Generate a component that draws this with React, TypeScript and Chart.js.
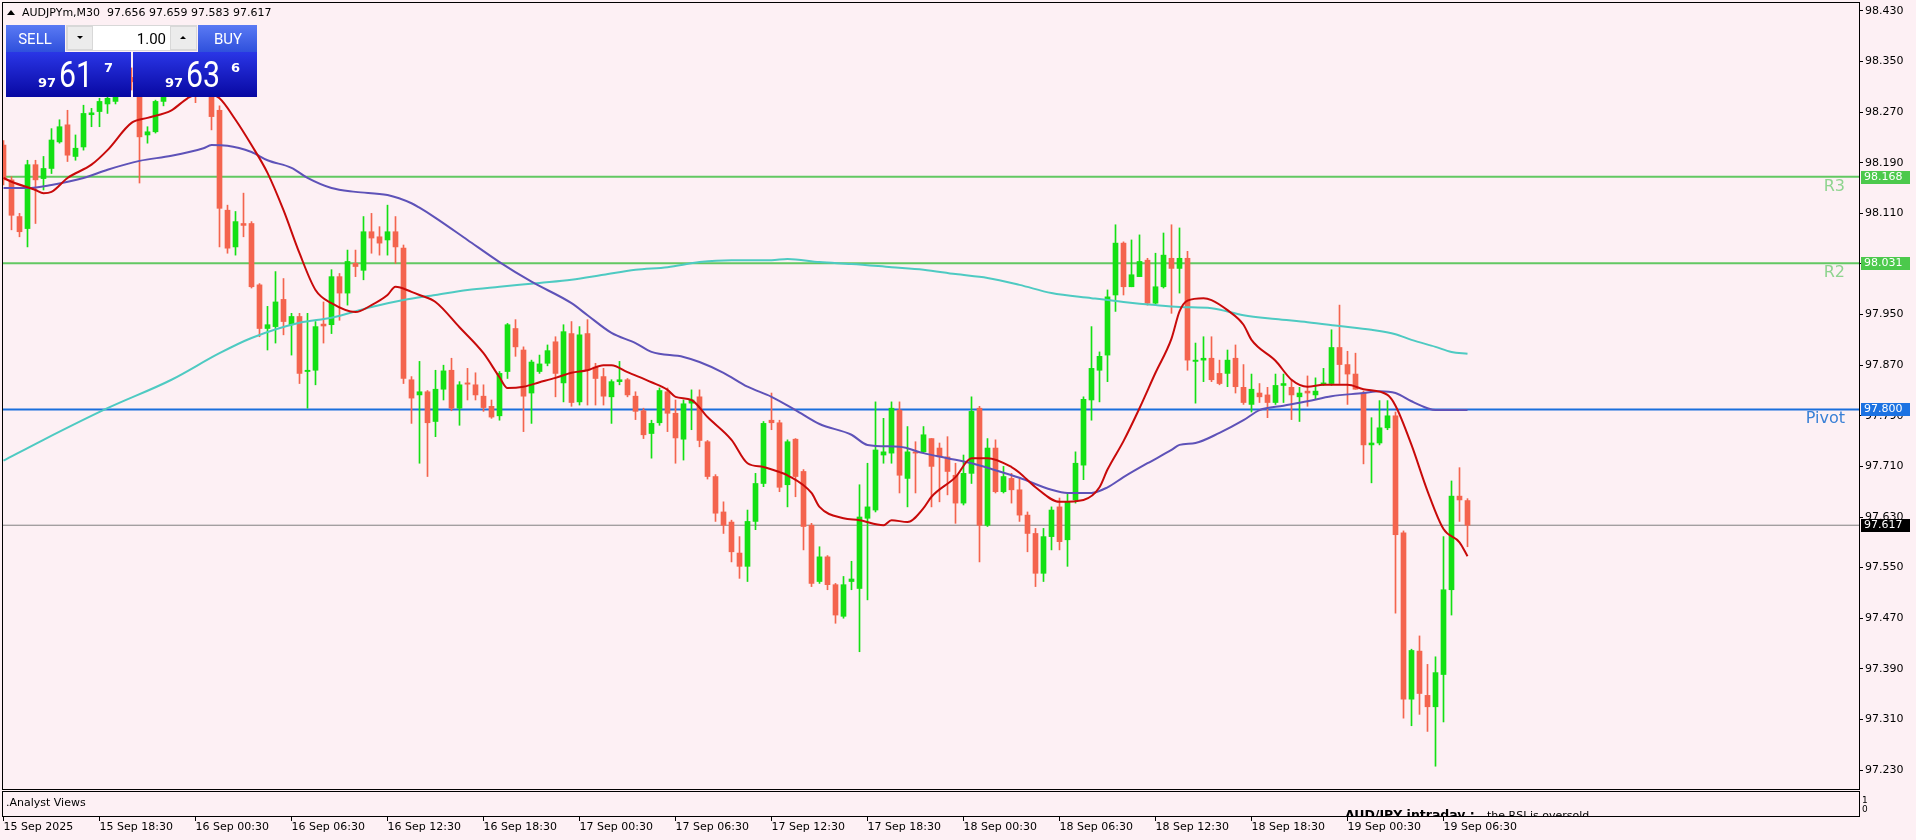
import React, { useEffect, useRef } from 'react';
import { Chart, registerables } from 'chart.js';

Chart.register(...registerables);

// ---------- data (30-minute bars, 15 Sep 12:30 -> 19 Sep 08:00) ----------
const OPEN = [
  98.218, 98.163, 98.105, 98.086, 98.187, 98.165, 98.181, 98.223, 98.250, 98.200,
  98.215, 98.266, 98.271, 98.283, 98.287, 98.300, 98.325, 98.318, 98.234, 98.239,
  98.287, 98.310, 98.335, 98.322, 98.340, 98.328, 98.315, 98.273, 98.115, 98.057,
  98.094, 98.094, 97.997, 97.928, 97.931, 97.974, 97.934, 97.947, 97.860, 97.862,
  97.935, 97.934, 98.010, 97.984, 98.031, 98.020, 98.081, 98.073, 98.068, 98.081,
  98.055, 97.847, 97.823, 97.828, 97.781, 97.832, 97.862, 97.802, 97.842, 97.839,
  97.821, 97.805, 97.790, 97.860, 97.928, 97.894, 97.826, 97.860, 97.873, 97.907,
  97.842, 97.920, 97.812, 97.920, 97.867, 97.852, 97.820, 97.844, 97.847, 97.821,
  97.798, 97.762, 97.779, 97.828, 97.794, 97.753, 97.810, 97.820, 97.749, 97.694,
  97.638, 97.622, 97.573, 97.552, 97.623, 97.683, 97.783, 97.779, 97.681, 97.753,
  97.702, 97.617, 97.528, 97.567, 97.523, 97.473, 97.528, 97.517, 97.628, 97.641,
  97.728, 97.731, 97.799, 97.691, 97.733, 97.733, 97.754, 97.739, 97.725, 97.696,
  97.652, 97.699, 97.802, 97.617, 97.739, 97.670, 97.691, 97.673, 97.633, 97.604,
  97.541, 97.599, 97.646, 97.594, 97.657, 97.712, 97.815, 97.862, 97.886, 97.981,
  98.063, 97.994, 98.010, 98.036, 97.968, 97.994, 98.039, 98.023, 98.039, 97.876,
  97.878, 97.881, 97.857, 97.857, 97.881, 97.835, 97.808, 97.826, 97.823, 97.811,
  97.838, 97.835, 97.820, 97.829, 97.823, 97.839, 97.841, 97.898, 97.871, 97.856,
  97.826, 97.744, 97.747, 97.771, 97.790, 97.605, 97.342, 97.418, 97.348, 97.330,
  97.381, 97.515, 97.663, 97.656,
];
const HIGH = [
  98.225, 98.168, 98.110, 98.194, 98.194, 98.200, 98.244, 98.258, 98.273, 98.234,
  98.281, 98.276, 98.292, 98.295, 98.310, 98.335, 98.340, 98.325, 98.247, 98.289,
  98.318, 98.345, 98.352, 98.360, 98.350, 98.340, 98.322, 98.280, 98.123, 98.113,
  98.142, 98.097, 97.999, 97.963, 98.018, 98.007, 97.952, 97.952, 97.952, 97.939,
  97.970, 98.021, 98.015, 98.052, 98.052, 98.105, 98.110, 98.089, 98.123, 98.105,
  98.060, 97.852, 97.876, 97.830, 97.862, 97.870, 97.881, 97.844, 97.865, 97.858,
  97.839, 97.815, 97.860, 97.936, 97.942, 97.899, 97.878, 97.886, 97.902, 97.915,
  97.934, 97.939, 97.931, 97.942, 97.873, 97.865, 97.847, 97.876, 97.849, 97.828,
  97.802, 97.783, 97.834, 97.834, 97.815, 97.815, 97.831, 97.831, 97.751, 97.697,
  97.654, 97.625, 97.599, 97.641, 97.699, 97.781, 97.826, 97.783, 97.752, 97.754,
  97.705, 97.620, 97.583, 97.569, 97.525, 97.536, 97.560, 97.681, 97.715, 97.812,
  97.786, 97.812, 97.812, 97.773, 97.749, 97.773, 97.754, 97.747, 97.757, 97.715,
  97.728, 97.820, 97.805, 97.754, 97.752, 97.710, 97.699, 97.691, 97.638, 97.612,
  97.612, 97.646, 97.660, 97.668, 97.733, 97.820, 97.931, 97.891, 97.989, 98.092,
  98.065, 98.068, 98.076, 98.039, 98.047, 98.079, 98.092, 98.087, 98.050, 97.905,
  97.915, 97.915, 97.878, 97.894, 97.902, 97.871, 97.856, 97.841, 97.835, 97.856,
  97.856, 97.847, 97.835, 97.853, 97.850, 97.865, 97.926, 97.965, 97.892, 97.889,
  97.829, 97.787, 97.814, 97.814, 97.796, 97.608, 97.421, 97.442, 97.397, 97.409,
  97.599, 97.687, 97.708, 97.659,
];
const LOW = [
  98.155, 98.084, 98.073, 98.057, 98.094, 98.147, 98.173, 98.221, 98.192, 98.194,
  98.210, 98.247, 98.247, 98.268, 98.283, 98.295, 98.305, 98.158, 98.221, 98.237,
  98.280, 98.300, 98.310, 98.315, 98.285, 98.300, 98.242, 98.057, 98.047, 98.044,
  98.073, 97.992, 97.915, 97.894, 97.905, 97.918, 97.886, 97.841, 97.802, 97.839,
  97.905, 97.920, 97.941, 97.965, 98.010, 98.005, 98.047, 98.044, 98.044, 98.031,
  97.841, 97.778, 97.715, 97.694, 97.757, 97.815, 97.798, 97.775, 97.815, 97.815,
  97.797, 97.786, 97.783, 97.849, 97.884, 97.765, 97.778, 97.857, 97.869, 97.820,
  97.812, 97.805, 97.807, 97.807, 97.807, 97.807, 97.778, 97.839, 97.820, 97.784,
  97.754, 97.723, 97.775, 97.765, 97.715, 97.720, 97.768, 97.741, 97.690, 97.623,
  97.604, 97.559, 97.533, 97.528, 97.610, 97.678, 97.768, 97.670, 97.646, 97.662,
  97.578, 97.520, 97.525, 97.515, 97.462, 97.470, 97.515, 97.417, 97.499, 97.638,
  97.715, 97.715, 97.668, 97.646, 97.668, 97.731, 97.646, 97.654, 97.665, 97.620,
  97.649, 97.683, 97.559, 97.615, 97.668, 97.668, 97.652, 97.623, 97.575, 97.520,
  97.528, 97.578, 97.578, 97.552, 97.652, 97.689, 97.783, 97.812, 97.844, 97.955,
  97.981, 97.994, 98.010, 97.965, 97.965, 97.992, 97.952, 97.984, 97.862, 97.810,
  97.844, 97.844, 97.839, 97.836, 97.826, 97.808, 97.796, 97.811, 97.787, 97.808,
  97.811, 97.784, 97.781, 97.805, 97.817, 97.838, 97.838, 97.841, 97.808, 97.832,
  97.714, 97.684, 97.744, 97.768, 97.478, 97.312, 97.300, 97.318, 97.291, 97.236,
  97.306, 97.475, 97.623, 97.583,
];
const CLOSE = [
  98.163, 98.107, 98.081, 98.187, 98.163, 98.181, 98.226, 98.247, 98.202, 98.213,
  98.268, 98.269, 98.287, 98.292, 98.300, 98.325, 98.318, 98.231, 98.239, 98.287,
  98.310, 98.335, 98.322, 98.340, 98.328, 98.315, 98.263, 98.118, 98.055, 98.097,
  98.091, 97.994, 97.928, 97.934, 97.970, 97.939, 97.947, 97.857, 97.862, 97.931,
  97.932, 98.010, 97.984, 98.034, 98.026, 98.081, 98.071, 98.063, 98.081, 98.057,
  97.849, 97.818, 97.828, 97.779, 97.832, 97.861, 97.802, 97.839, 97.840, 97.823,
  97.803, 97.788, 97.857, 97.934, 97.899, 97.821, 97.875, 97.872, 97.893, 97.857,
  97.923, 97.811, 97.918, 97.862, 97.849, 97.821, 97.844, 97.847, 97.823, 97.797,
  97.760, 97.778, 97.830, 97.794, 97.755, 97.809, 97.815, 97.751, 97.694, 97.636,
  97.617, 97.575, 97.552, 97.623, 97.683, 97.778, 97.779, 97.677, 97.749, 97.694,
  97.615, 97.525, 97.567, 97.523, 97.475, 97.523, 97.532, 97.630, 97.646, 97.736,
  97.733, 97.802, 97.696, 97.733, 97.731, 97.760, 97.710, 97.725, 97.702, 97.652,
  97.699, 97.797, 97.617, 97.739, 97.670, 97.694, 97.673, 97.633, 97.604, 97.541,
  97.599, 97.641, 97.591, 97.654, 97.715, 97.816, 97.865, 97.884, 97.978, 98.063,
  97.994, 98.013, 98.034, 97.968, 97.994, 98.044, 98.023, 98.039, 97.878, 97.878,
  97.881, 97.847, 97.841, 97.878, 97.836, 97.811, 97.832, 97.820, 97.811, 97.838,
  97.841, 97.823, 97.826, 97.826, 97.829, 97.842, 97.898, 97.871, 97.856, 97.832,
  97.744, 97.747, 97.771, 97.790, 97.602, 97.342, 97.419, 97.351, 97.330, 97.384,
  97.515, 97.663, 97.657, 97.617,
];

// moving averages (bar index, price)
const FAST_MA_IDX = [0, 1, 4, 5, 6, 8, 11, 13, 16, 18, 21, 23, 25, 27, 29, 31, 33, 35, 37, 39, 41, 44, 46, 48, 49, 51, 52, 54, 57, 60, 62, 63, 65, 67, 69, 71, 73, 75, 76, 78, 81, 83, 84, 86, 88, 91, 93, 95, 97, 98, 101, 102, 105, 107, 110, 111, 113, 115, 116, 119, 121, 123, 126, 127, 129, 132, 135, 137, 138, 140, 142, 144, 146, 147, 148, 150, 151, 153, 155, 156, 159, 161, 163, 165, 168, 170, 173, 174, 176, 178, 180, 182, 183];
const FAST_MA_VAL = [98.166, 98.160, 98.147, 98.142, 98.144, 98.166, 98.187, 98.210, 98.253, 98.261, 98.273, 98.292, 98.302, 98.292, 98.258, 98.218, 98.174, 98.115, 98.047, 97.989, 97.968, 97.954, 97.965, 97.981, 97.994, 97.986, 97.981, 97.970, 97.930, 97.889, 97.851, 97.834, 97.836, 97.843, 97.850, 97.858, 97.862, 97.870, 97.870, 97.859, 97.843, 97.831, 97.820, 97.815, 97.788, 97.752, 97.715, 97.709, 97.701, 97.696, 97.668, 97.646, 97.628, 97.625, 97.617, 97.625, 97.622, 97.644, 97.662, 97.693, 97.723, 97.723, 97.709, 97.700, 97.677, 97.654, 97.657, 97.677, 97.705, 97.750, 97.802, 97.858, 97.912, 97.955, 97.972, 97.976, 97.973, 97.957, 97.934, 97.910, 97.877, 97.847, 97.836, 97.839, 97.839, 97.832, 97.823, 97.806, 97.744, 97.671, 97.611, 97.590, 97.568];

const MID_MA_IDX = [0, 3, 6, 10, 13, 17, 21, 25, 26, 28, 31, 33, 36, 38, 41, 44, 48, 51, 52, 54, 58, 62, 66, 71, 73, 76, 79, 81, 85, 87, 90, 93, 96, 99, 102, 106, 108, 112, 115, 118, 121, 124, 127, 131, 133, 136, 138, 140, 143, 146, 147, 149, 152, 155, 157, 160, 163, 166, 170, 172, 174, 176, 178, 179, 183];
const MID_MA_VAL = [98.150, 98.150, 98.155, 98.166, 98.179, 98.193, 98.201, 98.213, 98.218, 98.217, 98.207, 98.194, 98.182, 98.166, 98.150, 98.144, 98.139, 98.126, 98.119, 98.103, 98.068, 98.033, 98.002, 97.968, 97.949, 97.921, 97.905, 97.891, 97.883, 97.875, 97.858, 97.836, 97.820, 97.799, 97.777, 97.760, 97.744, 97.741, 97.731, 97.723, 97.715, 97.704, 97.692, 97.673, 97.668, 97.668, 97.677, 97.693, 97.715, 97.736, 97.744, 97.747, 97.763, 97.783, 97.799, 97.806, 97.813, 97.821, 97.826, 97.829, 97.826, 97.813, 97.802, 97.799, 97.799];

const SLOW_MA_IDX = [0, 5, 13, 21, 27, 31, 37, 41, 46, 50, 54, 58, 62, 67, 71, 75, 79, 83, 87, 91, 96, 98, 102, 106, 111, 115, 119, 123, 127, 131, 136, 140, 144, 147, 151, 155, 159, 163, 167, 171, 174, 176, 179, 181, 183];
const SLOW_MA_VAL = [97.719, 97.752, 97.802, 97.847, 97.889, 97.913, 97.937, 97.945, 97.962, 97.973, 97.981, 97.989, 97.994, 98.000, 98.005, 98.013, 98.021, 98.025, 98.033, 98.036, 98.036, 98.038, 98.033, 98.030, 98.025, 98.021, 98.014, 98.008, 97.997, 97.984, 97.976, 97.970, 97.965, 97.962, 97.960, 97.949, 97.943, 97.938, 97.932, 97.926, 97.919, 97.910, 97.899, 97.891, 97.888];

// horizontal levels
const LEVEL_NAMES = ['R3', 'R2', 'Pivot'];
const LEVEL_VALUES = [98.168, 98.031, 97.8];
const LAST_PRICE = 97.617;
const BID = 97.617;
const ASK = 97.636;
const SYMBOL = 'AUDJPYm,M30';

// axes
const Y_TICKS = [97.23, 97.31, 97.39, 97.47, 97.55, 97.63, 97.71, 97.79, 97.87, 97.95, 98.03, 98.11, 98.19, 98.27, 98.35, 98.43];
const X_TICK_IDX = [0, 12, 24, 36, 48, 60, 72, 84, 96, 108, 120, 132, 144, 156, 168, 180];
const X_TICK_LABELS = [
  '15 Sep 2025', '15 Sep 18:30', '16 Sep 00:30', '16 Sep 06:30', '16 Sep 12:30', '16 Sep 18:30',
  '17 Sep 00:30', '17 Sep 06:30', '17 Sep 12:30', '17 Sep 18:30', '18 Sep 00:30', '18 Sep 06:30',
  '18 Sep 12:30', '18 Sep 18:30', '19 Sep 00:30', '19 Sep 06:30',
];
const X_MIN = -0.0625;
const X_MAX = 231.9375;
const Y_MIN = 97.2;
const Y_MAX = 98.4426;

const SUB_TITLE = '.Analyst Views';
const SUB_HEAD = 'AUD/JPY intraday :';
const SUB_TEXT = 'the RSI is oversold';

// ---------- styles ----------
const BG = '#fdf0f4';
const BULL = '#14e014';
const BEAR = '#f4644e';
const FONT = '"DejaVu Sans", sans-serif';
const LEVEL_LINE_COLORS = ['#62c862', '#62c862', '#1a6fdc'];
const LEVEL_TEXT_COLORS = ['#8fd48f', '#8fd48f', '#3a80d6'];
const LEVEL_BOX_COLORS = ['#4cc94c', '#4cc94c', '#1c72e2'];

function splitPrice(p: number) {
  const s = p.toFixed(3);
  return { big: s.slice(0, 2), mid: s.slice(3, 5), small: s.slice(5, 6) };
}

const mt4Plugin = {
  id: 'mt4',
  beforeDraw(chart: any) {
    const { ctx, width, height } = chart;
    ctx.save();
    ctx.fillStyle = BG;
    ctx.fillRect(0, 0, width, height);
    ctx.restore();
  },
  afterDraw(chart: any) {
    const { ctx, chartArea: ca } = chart;
    const xs = chart.scales.x;
    const ys = chart.scales.y;
    ctx.save();

    // frames
    ctx.strokeStyle = '#000';
    ctx.lineWidth = 1;
    ctx.strokeRect(2.5, 2.5, ca.right - 2, ca.bottom - 2);
    ctx.strokeRect(2.5, ca.bottom + 2.5, ca.right - 2, 25);

    // x tick marks under the sub-window
    ctx.beginPath();
    X_TICK_IDX.forEach((i) => {
      const px = Math.floor(xs.getPixelForValue(i)) + 0.5;
      ctx.moveTo(px, ca.bottom + 28);
      ctx.lineTo(px, ca.bottom + 32);
    });
    ctx.stroke();

    // sub-window scale
    ctx.fillStyle = '#000';
    ctx.font = `9px ${FONT}`;
    ctx.textAlign = 'left';
    ctx.textBaseline = 'alphabetic';
    ctx.fillText('1', ca.right + 3, ca.bottom + 14);
    ctx.fillText('0', ca.right + 3, ca.bottom + 23);

    // sub-window texts
    ctx.font = `11px ${FONT}`;
    ctx.textBaseline = 'middle';
    ctx.fillText(SUB_TITLE, 6, ca.bottom + 14);
    ctx.save();
    ctx.beginPath();
    ctx.rect(3, ca.bottom + 3, ca.right - 3, 24);
    ctx.clip();
    ctx.textBaseline = 'alphabetic';
    ctx.font = `bold 12.5px ${FONT}`;
    ctx.fillText(SUB_HEAD, 1345, ca.bottom + 30);
    ctx.font = `11px ${FONT}`;
    ctx.fillText(SUB_TEXT, 1487, ca.bottom + 30);
    ctx.restore();

    // level labels + axis boxes
    LEVEL_NAMES.forEach((name, k) => {
      const py = ys.getPixelForValue(LEVEL_VALUES[k]);
      ctx.font = `16px ${FONT}`;
      ctx.textAlign = 'right';
      ctx.textBaseline = 'alphabetic';
      ctx.fillStyle = LEVEL_TEXT_COLORS[k];
      ctx.fillText(name, ca.right - 14, py + 14);
      ctx.fillStyle = LEVEL_BOX_COLORS[k];
      ctx.fillRect(ca.right + 2, Math.round(py) - 6, 49, 13);
      ctx.fillStyle = '#ffffff';
      ctx.font = `11px ${FONT}`;
      ctx.textAlign = 'left';
      ctx.textBaseline = 'middle';
      ctx.fillText(LEVEL_VALUES[k].toFixed(3), ca.right + 5, Math.round(py) + 0.5);
    });
    {
      const py = ys.getPixelForValue(LAST_PRICE);
      ctx.fillStyle = '#000';
      ctx.fillRect(ca.right + 2, Math.round(py) - 6, 49, 13);
      ctx.fillStyle = '#ffffff';
      ctx.font = `11px ${FONT}`;
      ctx.textAlign = 'left';
      ctx.textBaseline = 'middle';
      ctx.fillText(LAST_PRICE.toFixed(3), ca.right + 5, Math.round(py) + 0.5);
    }

    // title
    ctx.fillStyle = '#000';
    ctx.beginPath();
    ctx.moveTo(7, 15);
    ctx.lineTo(11, 10);
    ctx.lineTo(15, 15);
    ctx.closePath();
    ctx.fill();
    const n = OPEN.length - 1;
    ctx.font = `11px ${FONT}`;
    ctx.textAlign = 'left';
    ctx.textBaseline = 'middle';
    ctx.fillText(
      `${SYMBOL}  ${OPEN[n].toFixed(3)} ${HIGH[n].toFixed(3)} ${LOW[n].toFixed(3)} ${CLOSE[n].toFixed(3)}`,
      22, 13
    );

    // one-click trading panel
    const btnGrad = ctx.createLinearGradient(0, 25, 0, 52);
    btnGrad.addColorStop(0, '#5a7af4');
    btnGrad.addColorStop(1, '#2f50dc');
    const priceGrad = ctx.createLinearGradient(0, 52, 0, 97);
    priceGrad.addColorStop(0, '#2a36e6');
    priceGrad.addColorStop(1, '#0808a2');
    ctx.fillStyle = btnGrad;
    ctx.fillRect(6, 25, 59, 27);
    ctx.fillRect(198, 25, 59, 27);
    ctx.fillStyle = '#d8d8d8';
    ctx.fillRect(66, 25, 131, 26);
    ctx.fillStyle = '#ececec';
    ctx.fillRect(68, 27, 24, 22);
    ctx.fillRect(171, 27, 25, 22);
    ctx.fillStyle = '#ffffff';
    ctx.fillRect(93, 26, 77, 24);
    ctx.fillStyle = '#000';
    ctx.beginPath();
    ctx.moveTo(77, 36); ctx.lineTo(83, 36); ctx.lineTo(80, 39); ctx.closePath(); ctx.fill();
    ctx.beginPath();
    ctx.moveTo(180, 39); ctx.lineTo(186, 39); ctx.lineTo(183, 36); ctx.closePath(); ctx.fill();
    ctx.font = '15px Roboto';
    ctx.textAlign = 'right';
    ctx.textBaseline = 'alphabetic';
    ctx.fillText('1.00', 166, 44);
    ctx.fillStyle = '#ffffff';
    ctx.textAlign = 'center';
    ctx.fillText('SELL', 35, 44);
    ctx.fillText('BUY', 228, 44);
    ctx.fillStyle = priceGrad;
    ctx.fillRect(6, 52, 125, 45);
    ctx.fillRect(133, 52, 124, 45);
    const drawPrice = (p: number, x0: number) => {
      const s = splitPrice(p);
      ctx.fillStyle = '#ffffff';
      ctx.textAlign = 'left';
      ctx.textBaseline = 'alphabetic';
      ctx.font = `bold 13px ${FONT}`;
      ctx.fillText(s.big, x0, 87);
      ctx.save();
      ctx.translate(x0 + 21, 87);
      ctx.scale(0.84, 1);
      ctx.font = '36px Roboto';
      ctx.fillText(s.mid, 0, 0);
      ctx.restore();
      ctx.font = `bold 13px ${FONT}`;
      ctx.fillText(s.small, x0 + 66, 72);
    };
    drawPrice(BID, 38);
    drawPrice(ASK, 165);

    ctx.restore();
  },
};

export default function App() {
  const ref = useRef<HTMLCanvasElement>(null);
  useEffect(() => {
    const colors = CLOSE.map((c, i) => (c >= OPEN[i] ? BULL : BEAR));
    const levelSets = LEVEL_VALUES.map((v, k) => ({
      type: 'line',
      data: [{ x: X_MIN, y: v }, { x: X_MAX, y: v }],
      borderColor: LEVEL_LINE_COLORS[k],
      borderWidth: 2,
      pointRadius: 0,
      tension: 0,
      order: 20,
    }));
    const maSet = (idx: number[], val: number[], color: string, order: number) => ({
      type: 'line',
      data: idx.map((x, k) => ({ x, y: val[k] })),
      borderColor: color,
      borderWidth: 2,
      pointRadius: 0,
      cubicInterpolationMode: 'monotone',
      order,
    });
    const chart = new Chart(ref.current as HTMLCanvasElement, {
      type: 'bar',
      data: {
        datasets: [
          ...levelSets,
          {
            type: 'line',
            data: [{ x: X_MIN, y: LAST_PRICE }, { x: X_MAX, y: LAST_PRICE }],
            borderColor: '#808080',
            borderWidth: 1,
            pointRadius: 0,
            order: 19,
          },
          {
            type: 'bar',
            data: OPEN.map((_, i) => ({ x: i, y: [LOW[i], HIGH[i]] })),
            backgroundColor: colors,
            barThickness: 1,
            grouped: false,
            borderWidth: 0,
            order: 10,
          },
          {
            type: 'bar',
            data: OPEN.map((o, i) => ({ x: i, y: [o, CLOSE[i]] })),
            backgroundColor: colors,
            barThickness: 5,
            grouped: false,
            borderWidth: 0,
            minBarLength: 1,
            order: 9,
          },
          maSet(SLOW_MA_IDX, SLOW_MA_VAL, '#4ecac2', 3),
          maSet(MID_MA_IDX, MID_MA_VAL, '#5e52b8', 2),
          maSet(FAST_MA_IDX, FAST_MA_VAL, '#c80a0a', 1),
        ] as any,
      },
      options: {
        responsive: false,
        animation: false,
        devicePixelRatio: 1,
        events: [],
        layout: { padding: { left: 3, top: 3, right: 0, bottom: 0 } },
        plugins: { legend: { display: false }, tooltip: { enabled: false } },
        scales: {
          x: {
            type: 'linear',
            position: 'bottom',
            min: X_MIN,
            max: X_MAX,
            offset: false,
            grid: { display: false, drawTicks: false },
            border: { display: false },
            ticks: {
              autoSkip: false,
              maxRotation: 0,
              minRotation: 0,
              align: 'start',
              padding: 32,
              color: '#000',
              font: { family: 'DejaVu Sans', size: 11 },
              callback: (_v: any, i: number) => X_TICK_LABELS[i],
            },
            afterBuildTicks: (s: any) => {
              s.ticks = X_TICK_IDX.map((v) => ({ value: v }));
            },
            afterFit: (s: any) => {
              s.height = 51;
              s.paddingLeft = 0;
              s.paddingRight = 0;
              s.paddingTop = 0;
              s.paddingBottom = 0;
            },
          },
          y: {
            type: 'linear',
            position: 'right',
            min: Y_MIN,
            max: Y_MAX,
            beginAtZero: false,
            grid: { display: true, drawOnChartArea: false, drawTicks: true, tickLength: 4, color: '#000' },
            border: { display: true, color: '#000' },
            ticks: {
              autoSkip: false,
              padding: 2,
              color: '#000',
              font: { family: 'DejaVu Sans', size: 11 },
              callback: (v: any) => Number(v).toFixed(3),
            },
            afterBuildTicks: (s: any) => {
              s.ticks = Y_TICKS.map((v) => ({ value: v }));
            },
            afterFit: (s: any) => {
              s.width = 57;
              s.paddingLeft = 0;
              s.paddingRight = 0;
              s.paddingTop = 0;
              s.paddingBottom = 0;
            },
          },
        },
      } as any,
      plugins: [mt4Plugin],
    });
    return () => chart.destroy();
  }, []);

  return (
    <div style={{ position: 'fixed', left: 0, top: 0, width: 1916, height: 840, background: BG, overflow: 'hidden' }}>
      <canvas ref={ref} width={1916} height={840} style={{ display: 'block', width: 1916, height: 840 }} />
    </div>
  );
}
